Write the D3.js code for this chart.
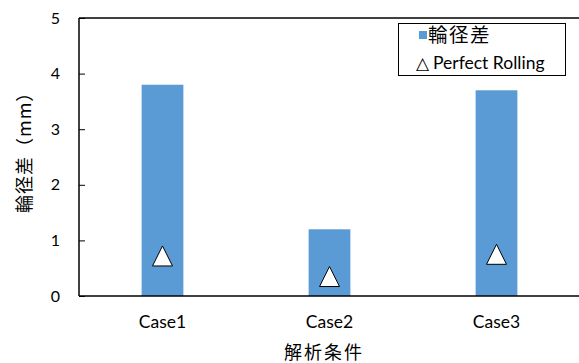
<!DOCTYPE html>
<html><head><meta charset="utf-8">
<script src="https://cdn.jsdelivr.net/npm/d3@7"></script>
<style>body{margin:0;background:#fff}svg{display:block}</style>
</head><body>
<svg id="c" width="579" height="363"></svg>
<script>
const categories = ["Case1", "Case2", "Case3"];
const wheelDiff = [3.8, 1.2, 3.7];
const perfectRolling = [0.72, 0.35, 0.75];
const yTicks = [0, 1, 2, 3, 4, 5];
const seriesNames = ["輪径差", "Perfect Rolling"];

const svg = d3.select("#c");
const L = 79, R = 580, T = 18, B = 296;
const latin = "Lato, 'Noto Sans', sans-serif";
const jp = "'Noto Sans CJK JP', sans-serif";

const x = d3.scaleBand().domain(categories).range([L, R]).padding(0);
const y = d3.scaleLinear().domain([0, 5]).range([B, T]);
const bw = x.bandwidth() * 0.25;

// bars
svg.selectAll("rect.bar").data(categories).join("rect")
  .attr("class", "bar")
  .attr("x", d => x(d) + x.bandwidth() / 2 - bw / 2)
  .attr("width", bw)
  .attr("y", (d, i) => y(wheelDiff[i]))
  .attr("height", (d, i) => y(0) - y(wheelDiff[i]))
  .attr("fill", "#5B9BD5");

// triangles
svg.selectAll("path.tri").data(categories).join("path")
  .attr("class", "tri")
  .attr("transform", (d, i) => `translate(${x(d) + x.bandwidth() / 2},${y(perfectRolling[i])})`)
  .attr("d", () => {
    const h = 20, w = 20;
    return `M0,${-h/2}L${w/2},${h/2}L${-w/2},${h/2}Z`;
  })
  .attr("fill", "#fff").attr("stroke", "#000").attr("stroke-width", 1);

// axes
const yAxis = d3.axisLeft(y).tickValues(yTicks).tickSize(-6).tickPadding(19).tickFormat(d3.format("d"));
const gy = svg.append("g").attr("transform", `translate(${L},0)`).call(yAxis);
gy.select(".domain").remove();
gy.selectAll(".tick line").attr("stroke", "#000").attr("stroke-width", 1);
gy.selectAll(".tick text").attr("font-family", latin).attr("font-size", 16).attr("fill", "#000");

const xAxis = d3.axisBottom(x).tickSize(0).tickPadding(20);
const gx = svg.append("g").attr("transform", `translate(0,${B})`).call(xAxis);
gx.select(".domain").remove();
gx.selectAll(".tick text").attr("font-family", latin).attr("font-size", 17.5).attr("fill", "#000");

svg.append("line").attr("x1", L).attr("x2", 579).attr("y1", B).attr("y2", B).attr("stroke", "#000").attr("stroke-width", 1.5);
svg.append("line").attr("x1", L).attr("x2", 579).attr("y1", T).attr("y2", T).attr("stroke", "#000").attr("stroke-width", 1.5);
svg.append("line").attr("x1", L).attr("x2", L).attr("y1", T).attr("y2", B).attr("stroke", "#000").attr("stroke-width", 1.5);

// axis titles
svg.append("text").attr("x", 284).attr("y", 359)
  .attr("font-family", jp).attr("font-size", 18).attr("letter-spacing", 2).attr("fill", "#000").text("解析条件");
svg.append("text").attr("transform", `translate(31,213) rotate(-90)`)
  .attr("font-family", jp).attr("font-size", 18).attr("letter-spacing", 1).attr("fill", "#000").text("輪径差（mm）");

// legend
const lg = svg.append("g");
lg.append("rect").attr("x", 398.5).attr("y", 23.5).attr("width", 167).attr("height", 52)
  .attr("fill", "#fff").attr("stroke", "#000").attr("stroke-width", 1);
lg.append("rect").attr("x", 419).attr("y", 31).attr("width", 8).attr("height", 8).attr("fill", "#5B9BD5");
lg.append("text").attr("x", 428).attr("y", 42).attr("font-family", jp).attr("font-size", 19.5).attr("letter-spacing", 1.5).attr("fill", "#000").text(seriesNames[0]);
lg.append("text").attr("x", 416).attr("y", 69).attr("font-family", latin).attr("font-size", 17).attr("fill", "#000").text("△");
lg.append("text").attr("x", 433).attr("y", 69).attr("font-family", latin).attr("font-size", 17.5).attr("fill", "#000").text(seriesNames[1]);
</script>
</body></html>
